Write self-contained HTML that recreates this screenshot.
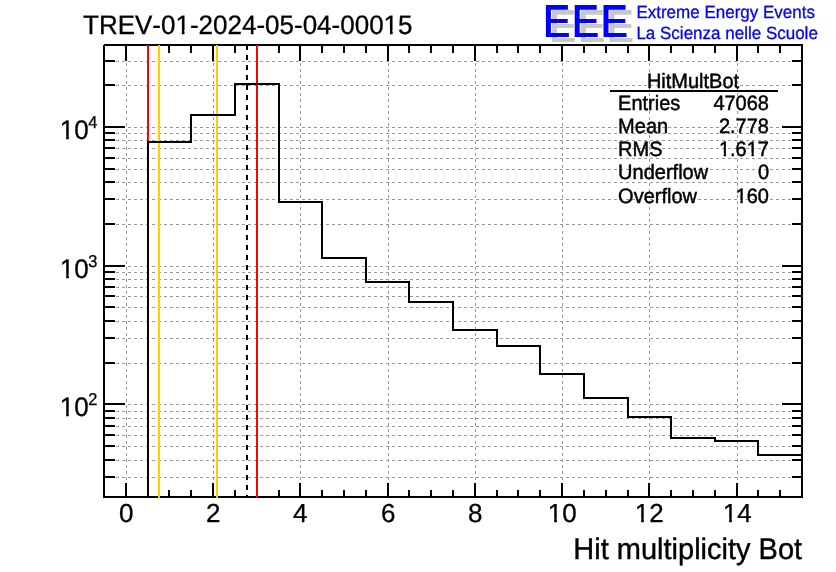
<!DOCTYPE html>
<html><head><meta charset="utf-8"><title>HitMultBot</title>
<style>
html,body{margin:0;padding:0;background:#fff;}
body{width:836px;height:572px;overflow:hidden;position:relative;}
svg{position:absolute;left:0;top:0;}
#txt{will-change:transform;}
#txt text{font-family:"Liberation Sans",sans-serif;font-kerning:none;text-rendering:geometricPrecision;}
</style></head><body>
<svg id="plot" width="836" height="572" viewBox="0 0 836 572" shape-rendering="crispEdges">
<path d="M104 477.5H803M104 460.5H803M104 446.5H803M104 435.5H803M104 426.5H803M104 418.5H803M104 411.5H803M104 404.5H803M104 363.5H803M104 338.5H803M104 321.5H803M104 307.5H803M104 296.5H803M104 287.5H803M104 279.5H803M104 272.5H803M104 266.5H803M104 224.5H803M104 199.5H803M104 182.5H803M104 169.5H803M104 158.5H803M104 148.5H803M104 140.5H803M104 133.5H803M104 127.5H803M104 85.5H803M104 61.5H803" stroke="#999999" stroke-width="1" stroke-dasharray="3 3" fill="none"/>
<path d="M126.5 45V498M213.5 45V498M300.5 45V498M388.5 45V498M475.5 45V498M562.5 45V498M649.5 45V498M737.5 45V498" stroke="#999999" stroke-width="1" stroke-dasharray="3 3" fill="none"/>
<rect x="104" y="44" width="699" height="1" fill="#000"/>
<rect x="103" y="45" width="700" height="1" fill="#000"/>
<rect x="103" y="496" width="700" height="2" fill="#000"/>
<rect x="103" y="45" width="2" height="453" fill="#000"/>
<rect x="801" y="44" width="2" height="454" fill="#000"/>
<rect x="125" y="483" width="2" height="14" fill="#000"/>
<rect x="125" y="46" width="2" height="15" fill="#000"/>
<rect x="147" y="490" width="2" height="7" fill="#000"/>
<rect x="147" y="46" width="2" height="7" fill="#000"/>
<rect x="168" y="490" width="2" height="7" fill="#000"/>
<rect x="168" y="46" width="2" height="7" fill="#000"/>
<rect x="190" y="490" width="2" height="7" fill="#000"/>
<rect x="190" y="46" width="2" height="7" fill="#000"/>
<rect x="212" y="483" width="2" height="14" fill="#000"/>
<rect x="212" y="46" width="2" height="15" fill="#000"/>
<rect x="234" y="490" width="2" height="7" fill="#000"/>
<rect x="234" y="46" width="2" height="7" fill="#000"/>
<rect x="256" y="490" width="2" height="7" fill="#000"/>
<rect x="256" y="46" width="2" height="7" fill="#000"/>
<rect x="278" y="490" width="2" height="7" fill="#000"/>
<rect x="278" y="46" width="2" height="7" fill="#000"/>
<rect x="299" y="483" width="2" height="14" fill="#000"/>
<rect x="299" y="46" width="2" height="15" fill="#000"/>
<rect x="321" y="490" width="2" height="7" fill="#000"/>
<rect x="321" y="46" width="2" height="7" fill="#000"/>
<rect x="343" y="490" width="2" height="7" fill="#000"/>
<rect x="343" y="46" width="2" height="7" fill="#000"/>
<rect x="365" y="490" width="2" height="7" fill="#000"/>
<rect x="365" y="46" width="2" height="7" fill="#000"/>
<rect x="387" y="483" width="2" height="14" fill="#000"/>
<rect x="387" y="46" width="2" height="15" fill="#000"/>
<rect x="408" y="490" width="2" height="7" fill="#000"/>
<rect x="408" y="46" width="2" height="7" fill="#000"/>
<rect x="430" y="490" width="2" height="7" fill="#000"/>
<rect x="430" y="46" width="2" height="7" fill="#000"/>
<rect x="452" y="490" width="2" height="7" fill="#000"/>
<rect x="452" y="46" width="2" height="7" fill="#000"/>
<rect x="474" y="483" width="2" height="14" fill="#000"/>
<rect x="474" y="46" width="2" height="15" fill="#000"/>
<rect x="496" y="490" width="2" height="7" fill="#000"/>
<rect x="496" y="46" width="2" height="7" fill="#000"/>
<rect x="517" y="490" width="2" height="7" fill="#000"/>
<rect x="517" y="46" width="2" height="7" fill="#000"/>
<rect x="539" y="490" width="2" height="7" fill="#000"/>
<rect x="539" y="46" width="2" height="7" fill="#000"/>
<rect x="561" y="483" width="2" height="14" fill="#000"/>
<rect x="561" y="46" width="2" height="15" fill="#000"/>
<rect x="583" y="490" width="2" height="7" fill="#000"/>
<rect x="583" y="46" width="2" height="7" fill="#000"/>
<rect x="605" y="490" width="2" height="7" fill="#000"/>
<rect x="605" y="46" width="2" height="7" fill="#000"/>
<rect x="627" y="490" width="2" height="7" fill="#000"/>
<rect x="627" y="46" width="2" height="7" fill="#000"/>
<rect x="648" y="483" width="2" height="14" fill="#000"/>
<rect x="648" y="46" width="2" height="15" fill="#000"/>
<rect x="670" y="490" width="2" height="7" fill="#000"/>
<rect x="670" y="46" width="2" height="7" fill="#000"/>
<rect x="692" y="490" width="2" height="7" fill="#000"/>
<rect x="692" y="46" width="2" height="7" fill="#000"/>
<rect x="714" y="490" width="2" height="7" fill="#000"/>
<rect x="714" y="46" width="2" height="7" fill="#000"/>
<rect x="736" y="483" width="2" height="14" fill="#000"/>
<rect x="736" y="46" width="2" height="15" fill="#000"/>
<rect x="757" y="490" width="2" height="7" fill="#000"/>
<rect x="757" y="46" width="2" height="7" fill="#000"/>
<rect x="779" y="490" width="2" height="7" fill="#000"/>
<rect x="779" y="46" width="2" height="7" fill="#000"/>
<rect x="105" y="476" width="10" height="2" fill="#000"/>
<rect x="792" y="476" width="10" height="2" fill="#000"/>
<rect x="105" y="459" width="10" height="2" fill="#000"/>
<rect x="792" y="459" width="10" height="2" fill="#000"/>
<rect x="105" y="445" width="10" height="2" fill="#000"/>
<rect x="792" y="445" width="10" height="2" fill="#000"/>
<rect x="105" y="434" width="10" height="2" fill="#000"/>
<rect x="792" y="434" width="10" height="2" fill="#000"/>
<rect x="105" y="425" width="10" height="2" fill="#000"/>
<rect x="792" y="425" width="10" height="2" fill="#000"/>
<rect x="105" y="417" width="10" height="2" fill="#000"/>
<rect x="792" y="417" width="10" height="2" fill="#000"/>
<rect x="105" y="410" width="10" height="2" fill="#000"/>
<rect x="792" y="410" width="10" height="2" fill="#000"/>
<rect x="105" y="403" width="20" height="2" fill="#000"/>
<rect x="782" y="403" width="20" height="2" fill="#000"/>
<rect x="105" y="362" width="10" height="2" fill="#000"/>
<rect x="792" y="362" width="10" height="2" fill="#000"/>
<rect x="105" y="337" width="10" height="2" fill="#000"/>
<rect x="792" y="337" width="10" height="2" fill="#000"/>
<rect x="105" y="320" width="10" height="2" fill="#000"/>
<rect x="792" y="320" width="10" height="2" fill="#000"/>
<rect x="105" y="306" width="10" height="2" fill="#000"/>
<rect x="792" y="306" width="10" height="2" fill="#000"/>
<rect x="105" y="295" width="10" height="2" fill="#000"/>
<rect x="792" y="295" width="10" height="2" fill="#000"/>
<rect x="105" y="286" width="10" height="2" fill="#000"/>
<rect x="792" y="286" width="10" height="2" fill="#000"/>
<rect x="105" y="278" width="10" height="2" fill="#000"/>
<rect x="792" y="278" width="10" height="2" fill="#000"/>
<rect x="105" y="271" width="10" height="2" fill="#000"/>
<rect x="792" y="271" width="10" height="2" fill="#000"/>
<rect x="105" y="265" width="20" height="2" fill="#000"/>
<rect x="782" y="265" width="20" height="2" fill="#000"/>
<rect x="105" y="223" width="10" height="2" fill="#000"/>
<rect x="792" y="223" width="10" height="2" fill="#000"/>
<rect x="105" y="198" width="10" height="2" fill="#000"/>
<rect x="792" y="198" width="10" height="2" fill="#000"/>
<rect x="105" y="181" width="10" height="2" fill="#000"/>
<rect x="792" y="181" width="10" height="2" fill="#000"/>
<rect x="105" y="168" width="10" height="2" fill="#000"/>
<rect x="792" y="168" width="10" height="2" fill="#000"/>
<rect x="105" y="157" width="10" height="2" fill="#000"/>
<rect x="792" y="157" width="10" height="2" fill="#000"/>
<rect x="105" y="147" width="10" height="2" fill="#000"/>
<rect x="792" y="147" width="10" height="2" fill="#000"/>
<rect x="105" y="139" width="10" height="2" fill="#000"/>
<rect x="792" y="139" width="10" height="2" fill="#000"/>
<rect x="105" y="132" width="10" height="2" fill="#000"/>
<rect x="792" y="132" width="10" height="2" fill="#000"/>
<rect x="105" y="126" width="20" height="2" fill="#000"/>
<rect x="782" y="126" width="20" height="2" fill="#000"/>
<rect x="105" y="84" width="10" height="2" fill="#000"/>
<rect x="792" y="84" width="10" height="2" fill="#000"/>
<rect x="105" y="60" width="10" height="2" fill="#000"/>
<rect x="792" y="60" width="10" height="2" fill="#000"/>
<rect x="147" y="45" width="2" height="453" fill="#ff0000"/>
<rect x="256" y="45" width="2" height="453" fill="#ff0000"/>
<rect x="158" y="45" width="2" height="453" fill="#ffcc00"/>
<rect x="216" y="45" width="2" height="453" fill="#ffcc00"/>
<rect x="246" y="45" width="2" height="5" fill="#000"/>
<rect x="246" y="55" width="2" height="5" fill="#000"/>
<rect x="246" y="65" width="2" height="5" fill="#000"/>
<rect x="246" y="75" width="2" height="5" fill="#000"/>
<rect x="246" y="85" width="2" height="5" fill="#000"/>
<rect x="246" y="95" width="2" height="5" fill="#000"/>
<rect x="246" y="105" width="2" height="5" fill="#000"/>
<rect x="246" y="115" width="2" height="5" fill="#000"/>
<rect x="246" y="125" width="2" height="5" fill="#000"/>
<rect x="246" y="135" width="2" height="5" fill="#000"/>
<rect x="246" y="145" width="2" height="5" fill="#000"/>
<rect x="246" y="155" width="2" height="5" fill="#000"/>
<rect x="246" y="165" width="2" height="5" fill="#000"/>
<rect x="246" y="175" width="2" height="5" fill="#000"/>
<rect x="246" y="185" width="2" height="5" fill="#000"/>
<rect x="246" y="195" width="2" height="5" fill="#000"/>
<rect x="246" y="205" width="2" height="5" fill="#000"/>
<rect x="246" y="215" width="2" height="5" fill="#000"/>
<rect x="246" y="225" width="2" height="5" fill="#000"/>
<rect x="246" y="235" width="2" height="5" fill="#000"/>
<rect x="246" y="245" width="2" height="5" fill="#000"/>
<rect x="246" y="255" width="2" height="5" fill="#000"/>
<rect x="246" y="265" width="2" height="5" fill="#000"/>
<rect x="246" y="275" width="2" height="5" fill="#000"/>
<rect x="246" y="285" width="2" height="5" fill="#000"/>
<rect x="246" y="295" width="2" height="5" fill="#000"/>
<rect x="246" y="305" width="2" height="5" fill="#000"/>
<rect x="246" y="315" width="2" height="5" fill="#000"/>
<rect x="246" y="325" width="2" height="5" fill="#000"/>
<rect x="246" y="335" width="2" height="5" fill="#000"/>
<rect x="246" y="345" width="2" height="5" fill="#000"/>
<rect x="246" y="355" width="2" height="5" fill="#000"/>
<rect x="246" y="365" width="2" height="5" fill="#000"/>
<rect x="246" y="375" width="2" height="5" fill="#000"/>
<rect x="246" y="385" width="2" height="5" fill="#000"/>
<rect x="246" y="395" width="2" height="5" fill="#000"/>
<rect x="246" y="405" width="2" height="5" fill="#000"/>
<rect x="246" y="415" width="2" height="5" fill="#000"/>
<rect x="246" y="425" width="2" height="5" fill="#000"/>
<rect x="246" y="435" width="2" height="5" fill="#000"/>
<rect x="246" y="445" width="2" height="5" fill="#000"/>
<rect x="246" y="455" width="2" height="5" fill="#000"/>
<rect x="246" y="465" width="2" height="5" fill="#000"/>
<rect x="246" y="475" width="2" height="5" fill="#000"/>
<rect x="246" y="485" width="2" height="5" fill="#000"/>
<rect x="246" y="495" width="2" height="3" fill="#000"/>
<path d="M148 497 L148 142 L191 142 L191 115 L235 115 L235 84 L279 84 L279 202 L322 202 L322 258 L366 258 L366 282 L409 282 L409 302 L453 302 L453 330 L497 330 L497 346 L540 346 L540 374 L584 374 L584 398 L628 398 L628 417 L671 417 L671 438 L715 438 L715 441 L758 441 L758 455 L802 455" stroke="#000" stroke-width="2" fill="none" stroke-linejoin="miter" stroke-linecap="square"/>
<rect x="610" y="90" width="168" height="2" fill="#000"/>
</svg>
<svg id="txt" width="836" height="572" viewBox="0 0 836 572">
<defs><clipPath id="c0" clipPathUnits="userSpaceOnUse"><path clip-rule="evenodd" d="M-2000 -2000H2000V2000H-2000ZM92.94 -3.69H98.85V2H92.94ZM101.45 -3.69H107.15V2H101.45ZM301.09 -3.69H307.00V2H301.09ZM309.60 -3.69H315.30V2H309.60Z"/></clipPath><clipPath id="c1" clipPathUnits="userSpaceOnUse"><path clip-rule="evenodd" d="M-2000 -2000H2000V2000H-2000ZM-50.03 -3.32H-45.24V2H-50.03ZM-43.03 -3.32H-38.40V2H-43.03ZM-22.22 -3.32H-17.44V2H-22.22ZM-15.22 -3.32H-10.60V2H-15.22Z"/></clipPath><clipPath id="c2" clipPathUnits="userSpaceOnUse"><path clip-rule="evenodd" d="M-2000 -2000H2000V2000H-2000ZM-33.35 -3.32H-28.56V2H-33.35ZM-26.35 -3.32H-21.72V2H-26.35Z"/></clipPath><clipPath id="c3" clipPathUnits="userSpaceOnUse"><path clip-rule="evenodd" d="M-2000 -2000H2000V2000H-2000ZM-13.98 -3.69H-8.07V2H-13.98ZM-5.47 -3.69H0.23V2H-5.47Z"/></clipPath><clipPath id="c4" clipPathUnits="userSpaceOnUse"><path clip-rule="evenodd" d="M-2000 -2000H2000V2000H-2000ZM-13.98 -3.69H-8.07V2H-13.98ZM-5.47 -3.69H0.23V2H-5.47Z"/></clipPath><clipPath id="c5" clipPathUnits="userSpaceOnUse"><path clip-rule="evenodd" d="M-2000 -2000H2000V2000H-2000ZM-13.98 -3.69H-8.07V2H-13.98ZM-5.47 -3.69H0.23V2H-5.47Z"/></clipPath><clipPath id="c6" clipPathUnits="userSpaceOnUse"><path clip-rule="evenodd" d="M-2000 -2000H2000V2000H-2000ZM0.48 -3.69H6.39V2H0.48ZM8.99 -3.69H14.69V2H8.99Z"/></clipPath><clipPath id="c7" clipPathUnits="userSpaceOnUse"><path clip-rule="evenodd" d="M-2000 -2000H2000V2000H-2000ZM0.48 -3.69H6.39V2H0.48ZM8.99 -3.69H14.69V2H8.99Z"/></clipPath><clipPath id="c8" clipPathUnits="userSpaceOnUse"><path clip-rule="evenodd" d="M-2000 -2000H2000V2000H-2000ZM0.48 -3.69H6.39V2H0.48ZM8.99 -3.69H14.69V2H8.99Z"/></clipPath></defs>
<text transform="translate(83.0 33.9) scale(1 1.025)" font-size="26" text-anchor="start" fill="#000" stroke="#000" stroke-width="0.3" font-weight="normal" clip-path="url(#c0)">TREV-01-2024-05-04-00015</text>
<g id="logo" role="img" aria-label="EEE"><path fill="#c8c8c8" d="M551.9 10h22v4.7h-17v9.2h16.8v4.1h-16.8v10h18v4h-23z"/><path fill="#c8c8c8" d="M580.7 10h22v4.7h-17v9.2h16.8v4.1h-16.8v10h18v4h-23z"/><path fill="#c8c8c8" d="M609.5 10h22v4.7h-17v9.2h16.8v4.1h-16.8v10h18v4h-23z"/><path fill="#0000ff" d="M545.9 5h22v4.7h-17v9.2h16.8v4.1h-16.8v10h18v4h-23z"/><path fill="#0000ff" d="M574.7 5h22v4.7h-17v9.2h16.8v4.1h-16.8v10h18v4h-23z"/><path fill="#0000ff" d="M603.5 5h22v4.7h-17v9.2h16.8v4.1h-16.8v10h18v4h-23z"/></g>
<text transform="translate(636.4 18) scale(1 1.04)" font-size="17" text-anchor="start" fill="#0000ff" stroke="#0000ff" stroke-width="0.3" font-weight="normal">Extreme Energy Events</text>
<text transform="translate(636.4 39) scale(1 1.04)" font-size="17" text-anchor="start" fill="#0000ff" stroke="#0000ff" stroke-width="0.3" font-weight="normal">La Scienza nelle Scuole</text>
<text transform="translate(693 88) scale(1 1.04)" font-size="20" text-anchor="middle" fill="#000" stroke="#000" stroke-width="0.45" font-weight="normal">HitMultBot</text>
<text transform="translate(618.1 110) scale(1 1.04)" font-size="20" text-anchor="start" fill="#000" stroke="#000" stroke-width="0.45" font-weight="normal">Entries</text>
<text transform="translate(769 110) scale(1 1.04)" font-size="20" text-anchor="end" fill="#000" stroke="#000" stroke-width="0.45" font-weight="normal">47068</text>
<text transform="translate(618.1 133) scale(1 1.04)" font-size="20" text-anchor="start" fill="#000" stroke="#000" stroke-width="0.45" font-weight="normal">Mean</text>
<text transform="translate(769 133) scale(1 1.04)" font-size="20" text-anchor="end" fill="#000" stroke="#000" stroke-width="0.45" font-weight="normal">2.778</text>
<text transform="translate(618.1 156.2) scale(1 1.04)" font-size="20" text-anchor="start" fill="#000" stroke="#000" stroke-width="0.45" font-weight="normal">RMS</text>
<text transform="translate(769 156.2) scale(1 1.04)" font-size="20" text-anchor="end" fill="#000" stroke="#000" stroke-width="0.45" font-weight="normal" clip-path="url(#c1)">1.617</text>
<text transform="translate(618.1 179.4) scale(1 1.04)" font-size="20" text-anchor="start" fill="#000" stroke="#000" stroke-width="0.45" font-weight="normal">Underflow</text>
<text transform="translate(769 179.4) scale(1 1.04)" font-size="20" text-anchor="end" fill="#000" stroke="#000" stroke-width="0.45" font-weight="normal">0</text>
<text transform="translate(618.1 202.5) scale(1 1.04)" font-size="20" text-anchor="start" fill="#000" stroke="#000" stroke-width="0.45" font-weight="normal">Overflow</text>
<text transform="translate(769 202.5) scale(1 1.04)" font-size="20" text-anchor="end" fill="#000" stroke="#000" stroke-width="0.45" font-weight="normal" clip-path="url(#c2)">160</text>
<text transform="translate(126.3 522.2) scale(1 1.0)" font-size="26" text-anchor="middle" fill="#000" stroke="#000" stroke-width="0.3" font-weight="normal">0</text>
<text transform="translate(213.3 522.2) scale(1 1.0)" font-size="26" text-anchor="middle" fill="#000" stroke="#000" stroke-width="0.3" font-weight="normal">2</text>
<text transform="translate(300.3 522.2) scale(1 1.0)" font-size="26" text-anchor="middle" fill="#000" stroke="#000" stroke-width="0.3" font-weight="normal">4</text>
<text transform="translate(388.3 522.2) scale(1 1.0)" font-size="26" text-anchor="middle" fill="#000" stroke="#000" stroke-width="0.3" font-weight="normal">6</text>
<text transform="translate(475.3 522.2) scale(1 1.0)" font-size="26" text-anchor="middle" fill="#000" stroke="#000" stroke-width="0.3" font-weight="normal">8</text>
<text transform="translate(562.3 522.2) scale(1 1.0)" font-size="26" text-anchor="middle" fill="#000" stroke="#000" stroke-width="0.3" font-weight="normal" clip-path="url(#c3)">10</text>
<text transform="translate(649.3 522.2) scale(1 1.0)" font-size="26" text-anchor="middle" fill="#000" stroke="#000" stroke-width="0.3" font-weight="normal" clip-path="url(#c4)">12</text>
<text transform="translate(737.3 522.2) scale(1 1.0)" font-size="26" text-anchor="middle" fill="#000" stroke="#000" stroke-width="0.3" font-weight="normal" clip-path="url(#c5)">14</text>
<text transform="translate(59.8 139) scale(1 1.03)" font-size="26" text-anchor="start" fill="#000" stroke="#000" stroke-width="0.3" font-weight="normal" clip-path="url(#c6)">10</text>
<text transform="translate(88.3 127.7) scale(1 1.04)" font-size="16.4" text-anchor="start" fill="#000" stroke="#000" stroke-width="0.3" font-weight="normal">4</text>
<text transform="translate(59.8 278) scale(1 1.03)" font-size="26" text-anchor="start" fill="#000" stroke="#000" stroke-width="0.3" font-weight="normal" clip-path="url(#c7)">10</text>
<text transform="translate(88.3 266.7) scale(1 1.04)" font-size="16.4" text-anchor="start" fill="#000" stroke="#000" stroke-width="0.3" font-weight="normal">3</text>
<text transform="translate(59.8 416) scale(1 1.03)" font-size="26" text-anchor="start" fill="#000" stroke="#000" stroke-width="0.3" font-weight="normal" clip-path="url(#c8)">10</text>
<text transform="translate(88.3 404.7) scale(1 1.04)" font-size="16.4" text-anchor="start" fill="#000" stroke="#000" stroke-width="0.3" font-weight="normal">2</text>
<text transform="translate(573.3 558.9) scale(1 1.025)" font-size="29" text-anchor="start" fill="#000" stroke="#000" stroke-width="0.4" font-weight="normal">Hit multiplicity Bot</text>
</svg>
</body></html>
